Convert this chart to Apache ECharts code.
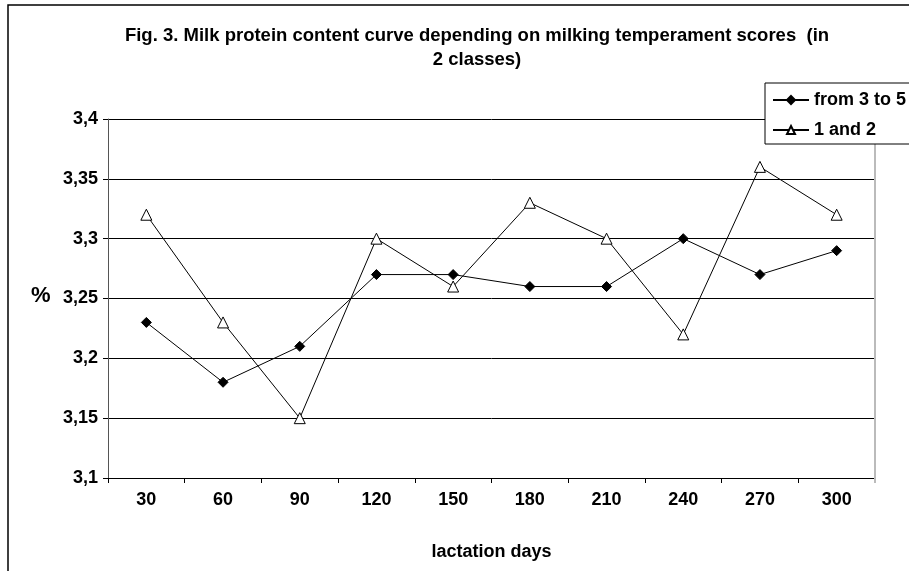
<!DOCTYPE html>
<html>
<head>
<meta charset="utf-8">
<script src="https://cdn.jsdelivr.net/npm/echarts@6/dist/echarts.min.js"></script>
<style>
  html, body { margin: 0; padding: 0; background: #fff; }
  #chart { width: 909px; height: 571px; }
</style>
</head>
<body>
<div id="chart"></div>
<script>
// lactation days on the x axis
const days = ['30', '60', '90', '120', '150', '180', '210', '240', '270', '300'];
// protein %
const from3to5 = [3.23, 3.18, 3.21, 3.27, 3.27, 3.26, 3.26, 3.30, 3.27, 3.29];
const oneAnd2 = [3.32, 3.23, 3.15, 3.30, 3.26, 3.33, 3.30, 3.22, 3.36, 3.32];

const font = 'Arial, "Liberation Sans", sans-serif';

/// comma decimal, no trailing zeros
function comma_label(v) {
    return parseFloat(v.toFixed(2)).toString().replace('.', ',');
}

let chart = echarts.init(document.getElementById('chart'), null, { renderer: 'canvas' });
let option = {
    animation: false,
    backgroundColor: '#fff',
    title: {
        text: 'Fig. 3. Milk protein content curve depending on milking temperament scores  (in\n2 classes)',
        left: 472,
        top: 19,
        textAlign: 'center',
        textStyle: {
            fontFamily: font,
            fontWeight: 'bold',
            fontSize: 18.5,
            lineHeight: 24,
            color: '#000',
        },
    },
    graphic: [
        {
            type: 'rect',
            shape: { x: 8, y: 5, width: 940, height: 600 },
            style: { fill: 'none', stroke: '#000', lineWidth: 1.5 },
            z: 100,
        },
        {
            type: 'text',
            left: 31,
            top: 285,
            style: { text: '%', font: 'bold 22px ' + font, fill: '#000' },
        },
        // right edge of plot area is a grey line in the reference
        {
            type: 'line',
            shape: { x1: 875, y1: 119, x2: 875, y2: 483 },
            style: { stroke: '#bbb', lineWidth: 2 },
            z: 1,
        },
    ],
    legend: {
        left: 765,
        top: 83,
        orient: 'vertical',
        itemWidth: 36,
        itemHeight: 10,
        itemGap: 12,
        padding: [8, 40, 5, 7],
        backgroundColor: '#fff',
        borderColor: '#000',
        borderWidth: 1,
        textStyle: { fontFamily: font, fontWeight: 'bold', fontSize: 18, lineHeight: 18, color: '#000' },
        data: ['from 3 to 5', '1 and 2'],
    },
    grid: {
        left: 108,
        right: 34,
        top: 119,
        bottom: 93,
    },
    xAxis: {
        type: 'category',
        data: days,
        boundaryGap: true,
        axisLine: { lineStyle: { color: '#000', width: 1 } },
        axisTick: { show: true, inside: false, length: 5, alignWithLabel: false, lineStyle: { color: '#000' } },
        axisLabel: { fontFamily: font, fontWeight: 'bold', fontSize: 18, color: '#000', margin: 13 },
        name: 'lactation days',
        nameLocation: 'middle',
        nameGap: 65,
        nameTextStyle: { fontFamily: font, fontWeight: 'bold', fontSize: 18, color: '#000' },
        splitLine: { show: false },
    },
    yAxis: {
        type: 'value',
        min: 3.1,
        max: 3.4,
        interval: 0.05,
        axisLine: { show: true, lineStyle: { color: '#555', width: 1 } },
        axisTick: { show: true, length: 5, lineStyle: { color: '#000' } },
        axisLabel: {
            fontFamily: font,
            fontWeight: 'bold',
            fontSize: 18,
            color: '#000',
            margin: 10,
            formatter: comma_label,
        },
        splitLine: { show: true, lineStyle: { color: '#000', width: 1 } },
    },
    series: [
        {
            name: 'from 3 to 5',
            type: 'line',
            data: from3to5,
            symbol: 'diamond',
            symbolSize: 10,
            lineStyle: { color: '#000', width: 1 },
            itemStyle: { color: '#000', borderColor: '#000', borderWidth: 1 },
            z: 3,
        },
        {
            name: '1 and 2',
            type: 'line',
            data: oneAnd2,
            symbol: 'triangle',
            symbolSize: 11,
            lineStyle: { color: '#000', width: 1 },
            itemStyle: { color: '#fff', borderColor: '#000', borderWidth: 1 },
            z: 2,
        },
    ],
};
chart.setOption(option);
</script>
</body>
</html>
